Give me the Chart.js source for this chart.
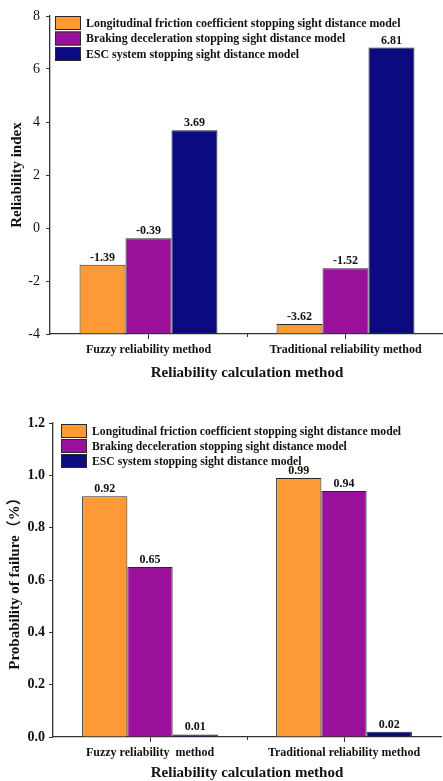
<!DOCTYPE html>
<html><head><meta charset="utf-8">
<script src="https://cdn.jsdelivr.net/npm/chart.js@4.4.0/dist/chart.umd.min.js"></script>
<style>
html,body{margin:0;padding:0;background:#fff;overflow:hidden;width:443px;height:781px;position:relative;}
#c1{position:absolute;left:0;top:0;}
#c2{position:absolute;left:0;top:395px;}
</style></head><body>
<canvas id="c1" width="448" height="395"></canvas>
<canvas id="c2" width="448" height="400"></canvas>
<script>
// ---------- data ----------
const categoriesTop = ['Fuzzy reliability method', 'Traditional reliability method'];
const categoriesBottom = ['Fuzzy reliability  method', 'Traditional reliability method'];
const seriesNames = [
  'Longitudinal friction coefficient stopping sight distance model',
  'Braking deceleration stopping sight distance model',
  'ESC system stopping sight distance model'
];
const reliabilityFriction = [-1.39, -3.62];
const reliabilityBraking = [-0.39, -1.52];
const reliabilityESC = [3.69, 6.81];
const failureFriction = [0.92, 0.99];
const failureBraking = [0.65, 0.94];
const failureESC = [0.01, 0.02];
const reliabilityTicks = [-4, -2, 0, 2, 4, 6, 8];
const failureTicks = [0.0, 0.2, 0.4, 0.6, 0.8, 1.0, 1.2];

// ---------- styles ----------
const FONT = "'Liberation Serif', 'Times New Roman', 'Noto Sans CJK SC', serif";
const colors = ['#FD9A36', '#9A109A', '#0B0A80'];
const edge = '#2a2a2a';
const axisCol = '#333333';

const labelPlugin = {
  id: 'valueLabels',
  afterDatasetsDraw(chart) {
    const ctx = chart.ctx;
    const o = chart.options.plugins.valueLabels;
    ctx.save();
    ctx.font = 'bold 12px ' + FONT;
    ctx.fillStyle = '#111';
    ctx.textAlign = 'center';
    ctx.textBaseline = 'bottom';
    chart.data.datasets.forEach((ds, i) => {
      const meta = chart.getDatasetMeta(i);
      meta.data.forEach((el, j) => {
        ctx.fillText(ds.data[j].toFixed(o.digits), el.x, el.y - 1);
      });
    });
    ctx.restore();
  }
};

const legendPlugin = {
  id: 'boxLegend',
  afterDraw(chart) {
    const o = chart.options.plugins.boxLegend;
    const ctx = chart.ctx;
    ctx.save();
    ctx.font = 'bold ' + o.size + 'px ' + FONT;
    ctx.textBaseline = 'middle';
    ctx.textAlign = 'left';
    chart.data.datasets.forEach((ds, i) => {
      const y = o.y + i * o.pitch;
      ctx.fillStyle = ds.backgroundColor;
      ctx.fillRect(o.x, y, o.w, o.h);
      ctx.strokeStyle = edge;
      ctx.lineWidth = 1;
      ctx.strokeRect(o.x + 0.5, y + 0.5, o.w - 1, o.h - 1);
      ctx.fillStyle = '#111';
      ctx.fillText(ds.label, o.x + o.w + 5, y + o.h / 2 + 0.5);
    });
    ctx.restore();
  }
};

const midTickPlugin = {
  id: 'midTick',
  afterDraw(chart) {
    const xs = chart.scales.x;
    const x = (xs.getPixelForValue(0) + xs.getPixelForValue(1)) / 2;
    const ctx = chart.ctx;
    ctx.save();
    ctx.strokeStyle = axisCol;
    ctx.lineWidth = 1;
    ctx.beginPath();
    ctx.moveTo(Math.round(x) + 0.5, chart.chartArea.bottom);
    ctx.lineTo(Math.round(x) + 0.5, chart.chartArea.bottom + 3);
    ctx.stroke();
    ctx.restore();
  }
};

function makeChart(id, cfg) {
  const datasets = cfg.series.map((d, i) => ({
    label: seriesNames[i],
    data: d,
    backgroundColor: colors[i],
    borderColor: edge,
    borderWidth: 1,
    base: cfg.min,
    categoryPercentage: 0.7,
    barPercentage: 1.0
  }));
  return new Chart(document.getElementById(id), {
    type: 'bar',
    data: { labels: cfg.labels, datasets },
    options: {
      responsive: false,
      animation: false,
      layout: { padding: { top: cfg.padTop, right: cfg.padRight, left: 0, bottom: 0 } },
      plugins: {
        legend: { display: false },
        tooltip: { enabled: false },
        valueLabels: { digits: 2 },
        boxLegend: cfg.legend
      },
      scales: {
        x: {
          grid: { display: true, drawOnChartArea: false, offset: false, tickLength: 5, color: axisCol, lineWidth: 1 },
          border: { display: true, color: axisCol, width: 1.3 },
          ticks: { color: '#111', font: { family: FONT, size: 12, weight: 'bold' }, padding: 4, maxRotation: 0, autoSkip: false },
          title: { display: true, text: 'Reliability calculation method', color: '#111',
                   font: { family: FONT, size: 15, weight: 'bold' }, padding: { top: 0, bottom: 13 } },
          afterFit(s) { s.height = cfg.xHeight; }
        },
        y: {
          min: cfg.min, max: cfg.max,
          afterBuildTicks(s) { s.ticks = cfg.ticks.map(v => ({ value: v })); },
          grid: { display: true, drawOnChartArea: false, tickLength: 4, color: axisCol, lineWidth: 1 },
          border: { display: true, color: axisCol, width: 1.3 },
          ticks: { color: '#111', padding: cfg.tickPad, font: { family: FONT, size: 14, weight: cfg.tickWeight },
                   callback: (v) => cfg.fmt(v) },
          title: { display: true, text: cfg.yTitle, color: '#111',
                   font: { family: FONT, size: 15, weight: 'bold' }, padding: { top: cfg.yTitlePad, bottom: 0 } },
          afterFit(s) { s.width = cfg.yWidth; }
        }
      }
    },
    plugins: [labelPlugin, legendPlugin, midTickPlugin]
  });
}

makeChart('c1', {
  labels: categoriesTop,
  series: [reliabilityFriction, reliabilityBraking, reliabilityESC],
  min: -4, max: 8, ticks: reliabilityTicks,
  fmt: v => String(v), tickWeight: 'normal', tickPad: 6,
  yTitle: 'Reliability index', yTitlePad: 8,
  padTop: 16, padRight: 4, xHeight: 61, yWidth: 50,
  legend: { x: 55, y: 16, pitch: 15.5, w: 26, h: 14, size: 11.9 }
});

makeChart('c2', {
  labels: categoriesBottom,
  series: [failureFriction, failureBraking, failureESC],
  min: 0, max: 1.2, ticks: failureTicks,
  fmt: v => v.toFixed(1), tickWeight: 'bold', tickPad: 4,
  yTitle: 'Probability of failure（%）', yTitlePad: 6,
  padTop: 28, padRight: 7, xHeight: 58, yWidth: 53,
  legend: { x: 61, y: 29, pitch: 15, w: 26, h: 14, size: 11.7 }
});
</script>
</body></html>
